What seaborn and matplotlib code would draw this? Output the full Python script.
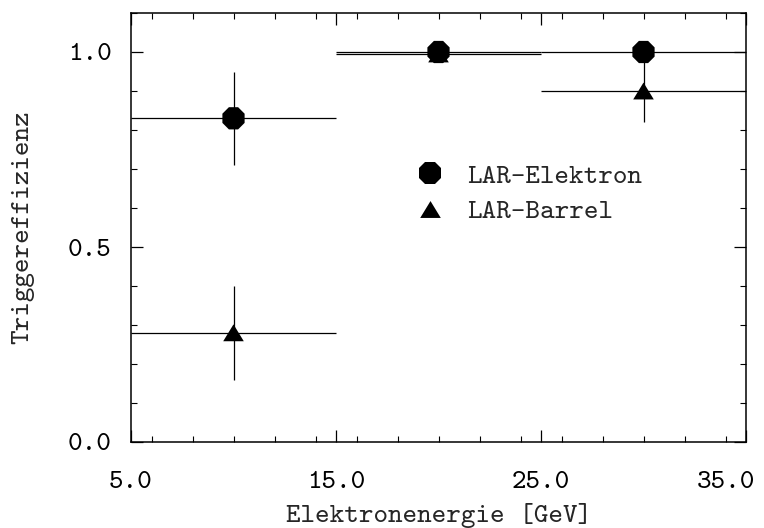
import numpy as np
import pandas as pd
import matplotlib
matplotlib.use("Agg")
import matplotlib.pyplot as plt
import matplotlib.transforms as mtransforms
import seaborn as sns
from matplotlib.ticker import MultipleLocator, FormatStrFormatter

# ---- data ----
series = ["LAR-Elektron", "LAR-Elektron", "LAR-Elektron",
          "LAR-Barrel", "LAR-Barrel", "LAR-Barrel"]
energy = [10.0, 20.0, 30.0, 10.0, 20.0, 30.0]
eff = [0.83, 1.00, 1.00, 0.28, 0.995, 0.90]
eff_err = [0.12, 0.0, 0.0, 0.12, 0.0, 0.08]
bin_halfwidth = [5.0, 5.0, 5.0, 5.0, 5.0, 5.0]
xticks = [5.0, 15.0, 25.0, 35.0]
yticks = [0.0, 0.5, 1.0]

df = pd.DataFrame({"series": series, "energy": energy, "eff": eff,
                   "err": eff_err, "xerr": bin_halfwidth})

sns.set_style("ticks")
plt.rcParams["font.family"] = ["cmtt10", "DejaVu Sans Mono"]
plt.rcParams["axes.unicode_minus"] = False

FS = 20

fig = plt.figure(figsize=(7.64, 5.28), dpi=100)
ax = fig.add_axes([131/764, 1-442/528, (746-131)/764, (442-13)/528])

# error bars
for _, r in df.iterrows():
    ax.errorbar(r["energy"], r["eff"], xerr=r["xerr"],
                yerr=r["err"] if r["err"] > 0 else None,
                fmt="none", ecolor="black", elinewidth=0.9, capsize=0, zorder=2)

tri = [(0, 0.82), (-1, -0.82), (1, -0.82)]
sns.scatterplot(data=df, x="energy", y="eff", style="series",
                markers={"LAR-Elektron": "8", "LAR-Barrel": tri},
                size="series", sizes={"LAR-Elektron": 300, "LAR-Barrel": 220},
                color="black", edgecolor="none", ax=ax, zorder=3, legend=True)

handles, labels = ax.get_legend_handles_labels()
ax.legend(handles, labels, loc="center left", bbox_to_anchor=(0.40, 0.578),
          frameon=False, fontsize=FS, handletextpad=0.35, labelspacing=0.35,
          markerscale=1.0)

ax.set_xlim(5, 35)
ax.set_ylim(0, 1.1)
ax.xaxis.set_minor_locator(MultipleLocator(2))
ax.yaxis.set_minor_locator(MultipleLocator(0.1))
ax.set_xticks(xticks)
ax.set_yticks(yticks)
ax.xaxis.set_major_formatter(FormatStrFormatter("%.1f"))
ax.yaxis.set_major_formatter(FormatStrFormatter("%.1f"))

ax.tick_params(which="both", direction="in", top=True, right=True,
               colors="black", labelsize=FS)
ax.tick_params(which="major", length=8.6, width=0.9)
ax.tick_params(axis="x", which="major", pad=21)
ax.tick_params(axis="y", which="major", pad=14)
ax.tick_params(which="minor", length=4.3, width=0.8)
for s in ax.spines.values():
    s.set_linewidth(1.1)
    s.set_color("black")

ax.set_xlabel("Elektronenergie [GeV]", fontsize=FS, labelpad=6)
ax.set_ylabel("Triggereffizienz", fontsize=FS, labelpad=24)

# shift the last x tick label left so it fits inside the figure
fig.canvas.draw()
last = ax.get_xticklabels()[-1]
last.set_transform(last.get_transform() +
                   mtransforms.ScaledTranslation(-0.2, 0, fig.dpi_scale_trans))

fig.savefig("out.png", dpi=100, facecolor="white")
